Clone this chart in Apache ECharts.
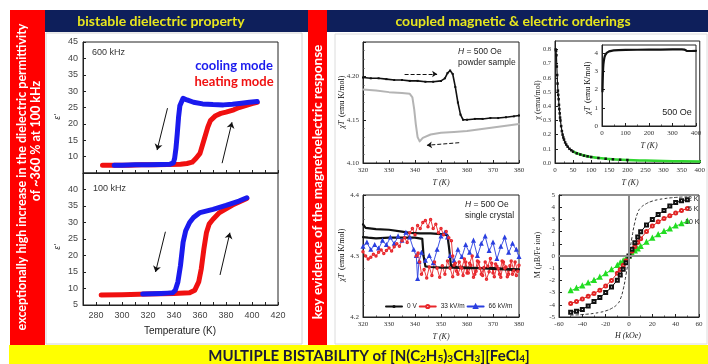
<!DOCTYPE html>
<html><head><meta charset="utf-8">
<script src="https://cdn.jsdelivr.net/npm/echarts@6/dist/echarts.min.js"></script>
<style>html,body{margin:0;padding:0;background:#fff}#c{width:708px;height:364px}</style>
</head><body><div id="c"></div>
<script>
// ---- Dielectric, 600 kHz ----
const t600Cool = [404,398,392,385,378,370,362,355,350,347,345.5,344.5,343.5,342.5,341.5,340.5,339.5,337,330,320,310,300,294];
const e600Cool = [26.8,26.6,26.3,26.0,25.8,25.9,26.1,26.6,27.3,27.8,27.3,25.5,22,17,12.5,9.5,8.1,7.7,7.6,7.5,7.5,7.4,7.4];
const t600Heat = [285,295,305,315,325,335,345,350,354,357,360,363,366,368,372,376,380,386,390,395,400,404];
const e600Heat = [7.4,7.4,7.4,7.5,7.5,7.6,7.7,7.9,8.3,9.5,11,15,19,21,22.5,23.2,23.6,24.3,25,25.6,26.2,26.6];
// ---- Dielectric, 100 kHz ----
const t100Cool = [396,390,380,370,360,355,352,349,347,345,343,341,339,335,330,323,316];
const e100Cool = [37.5,36.5,35.2,34,33,31.5,30,27.5,24,17,12,9.5,8.7,8.6,8.5,8.4,8.3];
const t100Heat = [284,300,320,340,352,356,359,361,363,365,367,370,375,385,396];
const e100Heat = [8,8.1,8.3,8.5,8.7,9.5,12,16,22,27,29.5,31,33,35.3,37.3];
// ---- chi*T powder sample ----
const tPowHeat = [320,323,326,329,332,335,338,341,344,347,350,351.5,352.5,353.5,354.5,355.5,356.5,357.5,358.5,360,363,366,369,372,375,378,380];
const xPowHeat = [4.199,4.198,4.198,4.197,4.196,4.196,4.195,4.195,4.194,4.194,4.195,4.198,4.204,4.207,4.203,4.188,4.170,4.156,4.150,4.150,4.151,4.151,4.152,4.152,4.153,4.154,4.155];
const tPowCool = [380,375,370,365,360,355,350,346,343,341.8,341,340.3,339.7,339,338,335,330,325,320];
const xPowCool = [4.145,4.143,4.141,4.139,4.137,4.136,4.135,4.133,4.129,4.125,4.130,4.145,4.162,4.176,4.180,4.181,4.182,4.184,4.185];
// ---- chi vs T ----
const tChi = [2,3,4,5,6,7,8,9,10,11,12,13,14,15,17,19,21,23,25,28,31,35,40,45,50,60,70,80,90,100,120,140,160,180,200];
const chiVal = [0.80,0.79,0.76,0.68,0.62,0.56,0.51,0.48,0.45,0.41,0.38,0.35,0.32,0.30,0.26,0.225,0.20,0.18,0.165,0.145,0.13,0.115,0.10,0.09,0.08,0.068,0.06,0.052,0.047,0.042,0.035,0.030,0.026,0.023,0.021];
const tGreen = [50,75,100,150,200,250,300,350,400];
const chiGreen = [0.080,0.056,0.042,0.028,0.021,0.017,0.014,0.012,0.011];
// ---- inset chi*T ----
const tChiT = [2,3,4,5,6,8,10,13,16,20,25,30,40,50,70,100,150,200,250,300,340,350,355,360,380,400];
const chiT = [1.9,2.5,2.9,3.2,3.4,3.6,3.75,3.88,3.95,4.02,4.07,4.10,4.13,4.15,4.17,4.18,4.19,4.20,4.20,4.21,4.21,4.20,4.15,4.13,4.12,4.13];
// ---- chi*T single crystal (loops) ----
const cr0V = [[320,4.352],[321,4.346],[325,4.344],[330,4.343],[335,4.340],[338,4.338],[342,4.337],[346,4.337],[350,4.336],[352.5,4.334],[353.2,4.31],[353.8,4.285],[356,4.282],[360,4.281],[365,4.280],[370,4.280],[375,4.279],[380,4.278],
  [379,4.277],[375,4.278],[370,4.279],[365,4.280],[360,4.280],[355,4.281],[350,4.281],[346,4.282],[344,4.283],[343.3,4.30],[342.8,4.328],[340,4.330],[335,4.330],[330,4.330],[325,4.329],[322,4.330],[320,4.331]];
const cr33 = [[320,4.307],[321,4.300],[322,4.295],[323,4.298],[324,4.303],[325,4.300],[326,4.306],[327,4.310],[328,4.304],[329,4.309],[330,4.313],[331,4.308],[332,4.315],[333,4.320],[334,4.316],[335,4.325],[336,4.330],[337,4.322],[338,4.338],[339,4.345],[340,4.335],[341,4.350],[342,4.345],[343,4.355],[344,4.358],[345,4.348],[346,4.360],[347,4.345],[348,4.352],[349,4.338],[350,4.345],[351,4.335],[352,4.340],[353,4.330],[354,4.325],[354.5,4.30],[355,4.285],[356,4.275],[357,4.290],[358,4.280],[359,4.295],[360,4.272],[361,4.288],[362,4.300],[363,4.270],[364,4.292],[365,4.280],[366,4.268],[367,4.290],[368,4.283],[369,4.296],[370,4.272],[371,4.287],[372,4.279],[373,4.265],[374,4.290],[375,4.282],[376,4.270],[377,4.292],[378,4.276],[379,4.268],[380,4.285],
  [379.5,4.275],[378.5,4.290],[377.5,4.270],[376.5,4.284],[375.5,4.266],[374.5,4.280],[373.5,4.292],[372.5,4.270],[371.5,4.283],[370.5,4.266],[369.5,4.288],[368.5,4.274],[367.5,4.262],[366.5,4.281],[365.5,4.270],[364.5,4.290],[363.5,4.275],[362.5,4.265],[361.5,4.285],[360.5,4.272],[359.5,4.290],[358.5,4.268],[357.5,4.282],[356.5,4.270],[355.5,4.288],[354.5,4.266],[353.5,4.280],[352.5,4.292],[351.5,4.270],[350.5,4.284],[349.5,4.265],[348.5,4.280],[347.5,4.290],[346.5,4.268],[345.5,4.282],[344.5,4.264],[343.5,4.278],[342.5,4.270],[341.8,4.290],[341.2,4.305],[340.5,4.300]];
const cr66 = [[320,4.315],[321.5,4.322],[323,4.310],[324.5,4.318],[326,4.312],[327.5,4.325],[329,4.318],[330.5,4.330],[332,4.320],[333.5,4.332],[335,4.325],[336.5,4.338],[338,4.330],[339.5,4.310],[340.5,4.300],[341,4.262],[341.5,4.290],[342.5,4.305],[344,4.292],[345.5,4.300],[347,4.288],[348.5,4.310],[350,4.332],[351.5,4.338],[352.5,4.330],[353.5,4.300],[355,4.292],[356.5,4.310],[358,4.298],[359.5,4.318],[361,4.305],[362.5,4.325],[364,4.300],[365.5,4.320],[367,4.332],[368.5,4.308],[370,4.322],[371.5,4.295],[373,4.315],[374.5,4.330],[376,4.305],[377.5,4.320],[379,4.310],[380,4.298]];
// ---- M vs H ----
const hField = [-50,-45,-40,-35,-30,-25,-20,-15,-10,-7.5,-5,-2.5,0,2.5,5,7.5,10,15,20,25,30,35,40,45,50];
const mBrill = [-4.85,-4.83,-4.8,-4.76,-4.7,-4.62,-4.5,-4.3,-3.95,-3.55,-2.75,-1.5,0,1.5,2.75,3.55,3.95,4.3,4.5,4.62,4.7,4.76,4.8,4.83,4.85];
const m2K = [-4.62,-4.52,-4.38,-4.1,-3.72,-3.4,-3.0,-2.55,-1.98,-1.55,-1.08,-0.55,0,0.55,1.08,1.55,1.98,2.55,3.0,3.4,3.72,4.1,4.38,4.52,4.62];
const m5K = [-3.9,-3.72,-3.52,-3.3,-3.08,-2.8,-2.45,-2.0,-1.42,-1.1,-0.75,-0.38,0,0.38,0.75,1.1,1.42,2.0,2.45,2.8,3.08,3.3,3.52,3.72,3.9];
const m10K = [-2.85,-2.65,-2.45,-2.22,-2.0,-1.75,-1.45,-1.12,-0.78,-0.58,-0.4,-0.2,0,0.2,0.4,0.58,0.78,1.12,1.45,1.75,2.0,2.22,2.45,2.65,2.85];

const zip = (a, b) => a.map((x, i) => [x, b[i]]);
const SERIF = 'Liberation Serif';
const SANS = 'Liberation Sans';

const grids = [
  {left: 83, top: 42, width: 195, height: 131},
  {left: 83, top: 173, width: 195, height: 132},
  {left: 363, top: 42, width: 156, height: 121},
  {left: 555, top: 41, width: 148, height: 122},
  {left: 602, top: 45, width: 94, height: 81, backgroundColor: '#fff'},
  {left: 363, top: 195, width: 156, height: 122},
  {left: 559, top: 195, width: 140, height: 122}
].map(g => Object.assign({show: true, borderColor: '#222', borderWidth: 1, backgroundColor: 'transparent', containLabel: false}, g));

function ax(gi, min, max, interval, o) {
  o = o || {};
  return {
    type: 'value', gridIndex: gi, min, max, interval,
    splitLine: {show: false},
    axisLine: {show: true, onZero: false, lineStyle: {color: '#222', width: 1}},
    axisTick: {show: true, inside: true, length: 3, lineStyle: {color: '#222'}},
    minorTick: o.minor ? {show: true, splitNumber: o.minor, length: 1.5, lineStyle: {color: '#444'}} : {show: false},
    axisLabel: {
      show: o.hideLabels ? false : true,
      fontSize: o.fs || 7, fontFamily: o.ff || SERIF, color: o.color || '#333', margin: o.margin || 4,
      showMinLabel: o.showMin !== undefined ? o.showMin : true,
      showMaxLabel: o.showMax !== undefined ? o.showMax : true,
      formatter: o.fmt
    }
  };
}

const fmtT = v => (v % 20 === 0 && v > 270) ? String(v) : '';
const xAxis = [
  ax(0, 270, 420, 10, {hideLabels: true}),
  ax(1, 270, 420, 10, {fmt: fmtT, fs: 9, ff: SANS, color: '#444', margin: 6}),
  ax(2, 320, 380, 10, {minor: 2}),
  ax(3, 0, 400, 50, {minor: 2}),
  ax(4, 0, 400, 100, {minor: 2}),
  ax(5, 320, 380, 10, {minor: 2}),
  ax(6, -60, 60, 20, {minor: 2})
];
const yAxis = [
  ax(0, 5, 45, 5, {fs: 9, ff: SANS, color: '#444', showMin: false, margin: 5}),
  ax(1, 5, 45, 5, {fs: 9, ff: SANS, color: '#444', showMax: false, margin: 5}),
  ax(2, 4.10, 4.24, 0.05, {fmt: v => v.toFixed(2), showMax: false, minor: 5}),
  ax(3, 0, 0.86, 0.1, {fmt: v => v.toFixed(1), showMax: false, fs: 6.5}),
  ax(4, 0, 4.45, 1, {fmt: v => String(Math.round(v)), showMax: false}),
  ax(5, 4.2, 4.4, 0.1, {fmt: v => v.toFixed(1), minor: 5}),
  ax(6, -5, 5, 1, {fmt: v => String(Math.round(v))})
];

function line(name, i, data, color, width, extra) {
  return Object.assign({
    type: 'line', name, xAxisIndex: i, yAxisIndex: i, data,
    symbol: 'none', lineStyle: {color, width, cap: 'round', join: 'round'}, itemStyle: {color, borderWidth: 0.8},
    silent: true, animation: false
  }, extra || {});
}
function arrows(pairs, dashed, size) {
  return {
    silent: true, animation: false, symbol: ['none', 'arrow'], symbolSize: size || 6,
    label: {show: false}, emphasis: {disabled: true},
    lineStyle: {color: '#111', width: 1, type: dashed ? 'dashed' : 'solid'},
    data: pairs.map(p => [{coord: p[0]}, {coord: p[1]}])
  };
}

const series = [
  line('heat600', 0, zip(t600Heat, e600Heat), '#f01010', 5),
  line('cool600', 0, zip(t600Cool, e600Cool), '#1a1aee', 5, {
    markLine: arrows([[[335, 24.8], [327, 12]], [[377, 8], [384.6, 20.5]]])
  }),
  line('heat100', 1, zip(t100Heat, e100Heat), '#f01010', 5),
  line('cool100', 1, zip(t100Cool, e100Cool), '#1a1aee', 5, {
    markLine: arrows([[[333.4, 27.2], [325.8, 15]], [[375.4, 14.1], [383, 26.9]]])
  }),
  line('powCool', 2, zip(tPowCool, xPowCool), '#b4b4b4', 2),
  line('powHeat', 2, zip(tPowHeat, xPowHeat), '#111', 1.6, {
    symbol: 'rect', symbolSize: 2, showSymbol: true,
    markLine: arrows([[[336, 4.203], [348.5, 4.203]], [[357, 4.1235], [344.6, 4.1205]]], true, 5)
  }),
  line('chi', 3, zip(tChi, chiVal), '#111', 1.2, {symbol: 'rect', symbolSize: 2.5, showSymbol: true}),
  line('chiGreen', 3, zip(tGreen, chiGreen), '#2fd62f', 2.5, {smooth: true}),
  line('chiT', 4, zip(tChiT, chiT), '#111', 2.2),
  line('66 kV/m', 5, cr66, '#2a3fe0', 0.9, {symbol: 'emptyTriangle', symbolSize: 1.8, showSymbol: true, itemStyle: {color: '#2a3fe0', borderWidth: 0.5}}),
  line('33 kV/m', 5, cr33, '#e8262b', 0.9, {symbol: 'emptyCircle', symbolSize: 1.5, showSymbol: true, itemStyle: {color: '#e8262b', borderWidth: 0.5}}),
  line('0 V', 5, cr0V, '#111', 2.2),
  line('brill', 6, zip(hField, mBrill), '#333', 1, {smooth: true, lineStyle: {color: '#333', width: 1, type: [3, 2]},
    markLine: {silent: true, animation: false, symbol: 'none', label: {show: false}, emphasis: {disabled: true},
      lineStyle: {color: '#8a8a8a', width: 2, type: 'solid'}, data: [{xAxis: 0}, {yAxis: 0}]}}),
  line('10 K', 6, zip(hField, m10K), '#22dd22', 1, {symbol: 'emptyTriangle', symbolSize: 3, showSymbol: true, itemStyle: {color: '#22dd22', borderWidth: 0.6}}),
  line('5 K', 6, zip(hField, m5K), '#e02424', 1, {symbol: 'emptyCircle', symbolSize: 3, showSymbol: true, itemStyle: {color: '#e02424', borderWidth: 0.6}}),
  line('2 K', 6, zip(hField, m2K), '#111', 1, {symbol: 'emptyRect', symbolSize: 3, showSymbol: true, itemStyle: {color: '#111', borderWidth: 0.6}})
];

function txt(x, y, text, font, fill, o) {
  o = o || {};
  return {type: 'text', x, y, rotation: o.rot || 0, z: 100, silent: true,
    style: Object.assign({text, font, fill, align: o.align || 'center', verticalAlign: 'middle'}, o.style || {})};
}
const R90 = Math.PI / 2;
const richChiT = {i: {fontFamily: SERIF, fontStyle: 'italic', fontSize: 8, fill: '#222', color: '#222'}, n: {fontFamily: SERIF, fontSize: 8, color: '#222'}};

const graphic = [
  {type: 'rect', shape: {x: 10, y: 10, width: 35, height: 335}, style: {fill: '#ff0000'}, silent: true, z: 1},
  {type: 'rect', shape: {x: 45, y: 10, width: 263, height: 22}, style: {fill: '#0e1f5b'}, silent: true, z: 1},
  {type: 'rect', shape: {x: 308, y: 10, width: 19, height: 335}, style: {fill: '#ff0000'}, silent: true, z: 1},
  {type: 'rect', shape: {x: 327, y: 10, width: 381, height: 22}, style: {fill: '#0e1f5b'}, silent: true, z: 1},
  {type: 'rect', shape: {x: 9, y: 345, width: 699, height: 19}, style: {fill: '#ffff00'}, silent: true, z: 1},
  {type: 'rect', shape: {x: 46, y: 33, width: 256, height: 311}, style: {fill: 'none', stroke: '#d4d4d4', lineWidth: 1}, silent: true, z: 1},
  {type: 'rect', shape: {x: 335, y: 34, width: 372, height: 310}, style: {fill: 'none', stroke: '#dcdcdc', lineWidth: 1}, silent: true, z: 1},
  txt(161, 21, 'bistable dielectric property', 'bold 14px Lato', '#e8e61e'),
  txt(513, 21, 'coupled magnetic & electric orderings', 'bold 14px Lato', '#e8e61e'),
  txt(22, 177, 'exceptionally high increase in the dielectric permittivity', 'bold 12.5px Lato', '#ffffff', {rot: R90}),
  txt(36, 141, 'of ~360 % at 100 kHz', 'bold 12.5px Lato', '#ffffff', {rot: R90}),
  txt(318, 182, 'key evidence of the magnetoelectric response', 'bold 13.5px Lato', '#ffffff', {rot: R90}),
  {type: 'text', x: 369, y: 355, z: 100, silent: true, style: {
    text: '{b|MULTIPLE BISTABILITY of [N(C}{s|2}{b|H}{s|5}{b|)}{s|3}{b|CH}{s|3}{b|][FeCl}{s|4}{b|]}',
    align: 'center', verticalAlign: 'middle',
    rich: {b: {fontFamily: 'Lato', fontWeight: 'bold', fontSize: 15, lineHeight: 18, verticalAlign: 'bottom', fill: '#1a1a3a', color: '#1a1a3a'},
           s: {fontFamily: 'Lato', fontWeight: 'bold', fontSize: 10, lineHeight: 8, verticalAlign: 'bottom', fill: '#1a1a3a', color: '#1a1a3a'}}}},
  // left panel annotations
  txt(92, 53, '600 kHz', '9px "Liberation Sans"', '#333', {align: 'left'}),
  txt(234, 66, 'cooling mode', 'bold 13px Lato', '#1a1aee'),
  txt(234, 82, 'heating mode', 'bold 13px Lato', '#f01010'),
  txt(93, 189, '100 kHz', '9px "Liberation Sans"', '#333', {align: 'left'}),
  txt(57, 117, "ε'", 'italic 9px "Liberation Sans"', '#333', {rot: R90}),
  txt(57, 247, "ε'", 'italic 9px "Liberation Sans"', '#333', {rot: R90}),
  txt(180, 331, 'Temperature (K)', '10px "Liberation Sans"', '#222'),
  // powder
  {type: 'text', x: 458, y: 52, z: 100, silent: true, style: {text: '{i|H} = 500 Oe', align: 'left', verticalAlign: 'middle', font: '8.5px "Liberation Sans"', fill: '#222', rich: {i: {fontStyle: 'italic', fontFamily: SANS, fontSize: 8.5, fill: '#222', color: '#222'}}}},
  txt(458, 63, 'powder sample', '8.5px "Liberation Sans"', '#222', {align: 'left'}),
  {type: 'text', x: 342, y: 102, rotation: R90, z: 100, silent: true, style: {text: '{i|χT} {n|(emu K/mol)}', align: 'center', verticalAlign: 'middle', rich: richChiT}},
  txt(441, 183, 'T (K)', 'italic 8px "Liberation Serif"', '#222'),
  // crystal
  {type: 'text', x: 465, y: 205, z: 100, silent: true, style: {text: '{i|H} = 500 Oe', align: 'left', verticalAlign: 'middle', font: '8.5px "Liberation Sans"', fill: '#222', rich: {i: {fontStyle: 'italic', fontFamily: SANS, fontSize: 8.5, fill: '#222', color: '#222'}}}},
  txt(465, 216, 'single crystal', '8.5px "Liberation Sans"', '#222', {align: 'left'}),
  {type: 'text', x: 342, y: 255, rotation: R90, z: 100, silent: true, style: {text: '{i|χT} {n|(emu K/mol)}', align: 'center', verticalAlign: 'middle', rich: richChiT}},
  txt(441, 337, 'T (K)', 'italic 8px "Liberation Serif"', '#222'),
  // chi
  txt(538, 100, 'χ (emu/mol)', '8px "Liberation Serif"', '#222', {rot: R90}),
  txt(630, 183, 'T (K)', 'italic 8px "Liberation Serif"', '#222'),
  {type: 'text', x: 588, y: 88, rotation: R90, z: 100, silent: true, style: {text: '{i|χT} {n|(emu K/mol)}', align: 'center', verticalAlign: 'middle', rich: richChiT}},
  txt(649, 146, 'T (K)', 'italic 8px "Liberation Serif"', '#222'),
  txt(677, 113, '500 Oe', '9px "Liberation Sans"', '#222'),
  // M(H)
  txt(538, 255, 'M (μB/Fe ion)', '8px "Liberation Serif"', '#222', {rot: R90}),
  txt(628, 336, 'H (kOe)', 'italic 8px "Liberation Serif"', '#222'),
  txt(688, 199, '2 K', '7px "Liberation Sans"', '#222', {align: 'left'}),
  txt(688, 209, '5 K', '7px "Liberation Sans"', '#222', {align: 'left'}),
  txt(685, 222, '10 K', '7px "Liberation Sans"', '#222', {align: 'left'})
];

const chart = echarts.init(document.getElementById('c'), null, {renderer: 'canvas'});
chart.setOption({
  backgroundColor: '#ffffff',
  animation: false,
  grid: grids,
  xAxis, yAxis,
  legend: {data: ['0 V', '33 kV/m', '66 kV/m'], left: 385, top: 303, padding: 0, itemWidth: 16, itemHeight: 4, itemGap: 2,
    selectedMode: false, textStyle: {fontSize: 6.5, fontFamily: SANS, color: '#222'}},
  series,
  graphic
});
</script></body></html>
